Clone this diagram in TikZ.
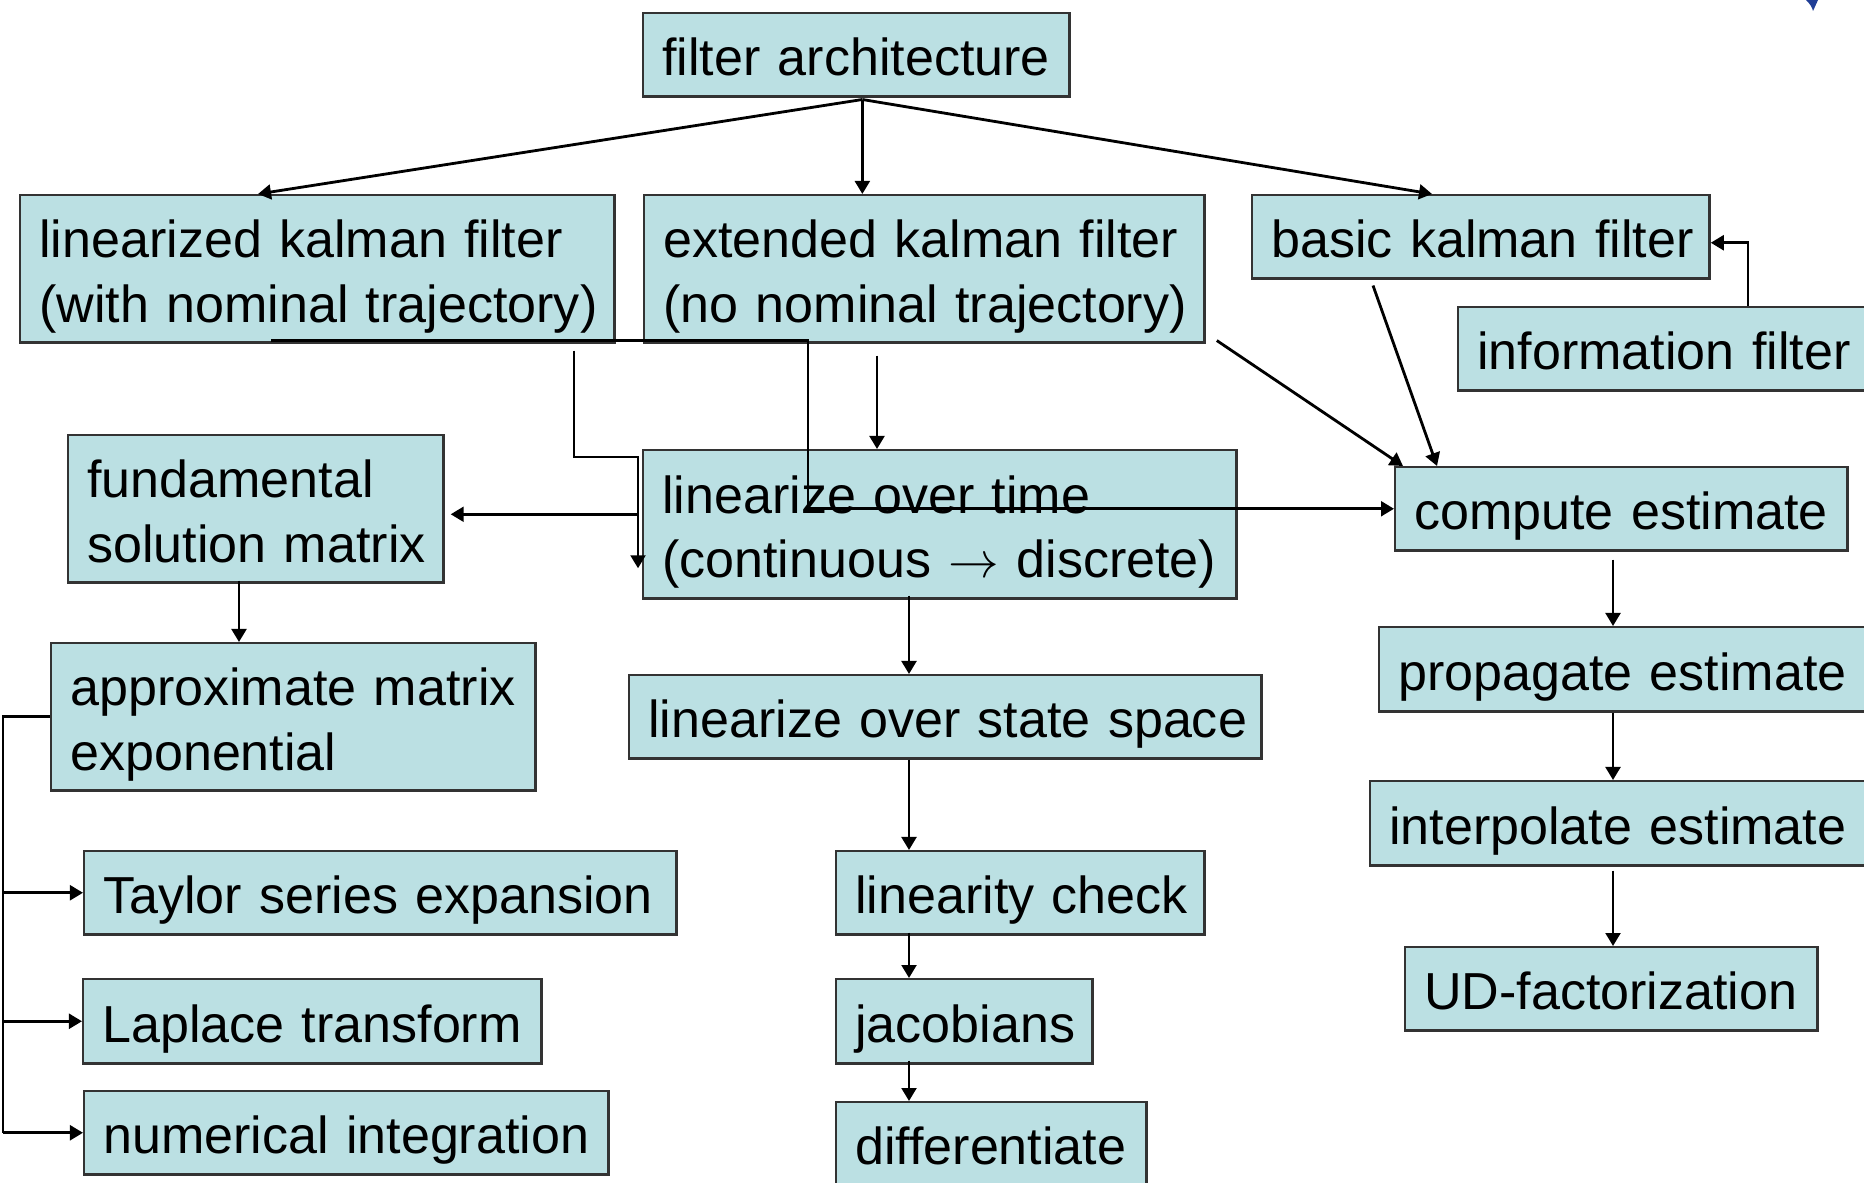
\documentclass[tikz,border=0pt]{standalone}
\usepackage{fontspec}
\setmainfont{Liberation Sans}
\usetikzlibrary{arrows.meta,calc}
\definecolor{boxfill}{RGB}{187,224,227}
\definecolor{logoblue}{RGB}{32,62,150}
\hyphenpenalty=10000
\exhyphenpenalty=10000
\begin{document}
\begin{tikzpicture}[x=0.01cm, y=-0.01cm,
  block/.style={draw=black!80, fill=boxfill, line width=0.7pt, anchor=north west, inner xsep=0.19cm, inner ysep=0pt, align=left, font=\fontsize{14.8}{18.4}\selectfont,
    execute at begin node={\rule{0pt}{16pt}}, execute at end node={\rule[-4pt]{0pt}{4pt}}},
  link/.style={line width=0.8pt, -{Triangle[length=3.7pt,width=4.2pt]}},
  bar/.style={line width=0.8pt}]
\useasboundingbox (0,0) rectangle (1864,1182);
\clip (0,0) rectangle (1864,1182);

\node[block, text width=3.88cm, minimum height=0.83cm] (arch) at (642,12) {filter~architecture};
\node[block, text width=5.56cm, minimum height=1.47cm] (lkf) at (19,194) {linearized~kalman~filter\\(with~nominal~trajectory)};
\node[block, text width=5.22cm, minimum height=1.47cm] (ekf) at (643,194) {extended~kalman~filter\\(no~nominal~trajectory)};
\node[block, text width=4.19cm, minimum height=0.83cm] (bkf) at (1251,194) {basic~kalman~filter};
\node[block, text width=4.05cm, minimum height=0.83cm] (info) at (1457,306) {information~filter};
\node[block, text width=3.37cm, minimum height=1.47cm] (fsm) at (67,434) {fundamental\\solution~matrix};
\node[block, text width=5.55cm, minimum height=1.48cm] (lot) at (642,449) {linearize~over~time\\(continuous~$\rightarrow$~discrete)};
\node[block, text width=4.14cm, minimum height=0.83cm] (ce) at (1394,466) {compute~estimate};
\node[block, text width=4.46cm, minimum height=1.47cm] (ame) at (50,642) {approximate~matrix\\exponential};
\node[block, text width=5.94cm, minimum height=0.83cm] (loss) at (628,674) {linearize~over~state~space};
\node[block, text width=4.84cm, minimum height=0.84cm] (pe) at (1378,626) {propagate~estimate};
\node[block, text width=4.93cm, minimum height=0.84cm] (ie) at (1369,780) {interpolate~estimate};
\node[block, text width=5.54cm, minimum height=0.83cm] (taylor) at (83,850) {Taylor~series~expansion};
\node[block, text width=3.30cm, minimum height=0.83cm] (lc) at (835,850) {linearity~check};
\node[block, text width=3.74cm, minimum height=0.83cm] (ud) at (1404,946) {\mbox{UD-factorization}};
\node[block, text width=4.20cm, minimum height=0.84cm] (laplace) at (82,978) {Laplace~transform};
\node[block, text width=2.18cm, minimum height=0.84cm] (jac) at (835,978) {jacobians};
\node[block, text width=4.86cm, minimum height=0.83cm] (numint) at (83,1090) {numerical~integration};
\node[block, text width=2.72cm, minimum height=0.83cm] (diff) at (835,1101) {differentiate};

\coordinate (archfoot) at ($(arch.south)+(6,2)$);
\draw[link] (archfoot) -- ($(lkf.north west)+(239,0)$);
\draw[link] (archfoot) -- (archfoot |- ekf.north);
\draw[link] (archfoot) -- ($(bkf.north west)+(181,0)$);
\draw[link] ($(info.north west)+(291,0)$) |- ($(bkf.east)+(0,6)$);
\draw[link] ($(bkf.south west)+(122,6)$) -- ($(ce.north west)+(43,0)$);
\draw[link] ($(ekf.south east)+(11,-3)$) -- ($(ce.north west)+(9,0)$);
\draw[link] ($(ekf.south west)+(234,12)$) coordinate (ekfdrop) -- (ekfdrop |- lot.north);
\draw[link] ($(lkf.south west)+(555,7)$) |- ($(lot.north west)+(-4,8)$) -- ($(lot.west)+(-4,44)$);
\draw[link] ($(lkf.south west)+(252,-3)$) -| ($(ce.west)+(-586,0)$) -- (ce.west);
\coordinate (lotleft) at ($(lot.west)+(-4,-10)$);
\draw[link] (lotleft) -- ($(lotleft -| fsm.east)+(6,0)$);
\draw[link] ($(fsm.south west)+(172,-3)$) coordinate (fsmdrop) -- (fsmdrop |- ame.north);

\coordinate (bus) at ($(ame.west)+(-47,0)$);
\draw[bar] (ame.west) -- (bus) -- (bus |- numint.west);
\foreach \leaf in {taylor,laplace,numint}
  \draw[link] (bus |- \leaf.west) -- (\leaf.west);

\coordinate (spine) at ($(lot.south west)+(267,0)$);
\draw[link] ($(spine)+(0,-4)$) -- (spine |- loss.north);
\draw[link] (spine |- loss.south) -- (spine |- lc.north);
\draw[link] ($(spine |- lc.south)+(0,-3)$) -- (spine |- jac.north);
\draw[link] ($(spine |- jac.south)+(0,-4)$) -- (spine |- diff.north);

\coordinate (rspine) at ($(ce.south west)+(219,0)$);
\draw[link] ($(rspine)+(0,8)$) -- (rspine |- pe.north);
\draw[link] (rspine |- pe.south) -- (rspine |- ie.north);
\draw[link] ($(rspine |- ie.south)+(0,4)$) -- (rspine |- ud.north);

\fill[logoblue] (1806,0) .. controls (1810,4) and (1812,7) .. (1813,11) -- (1818,0) -- cycle;
\end{tikzpicture}
\end{document}
